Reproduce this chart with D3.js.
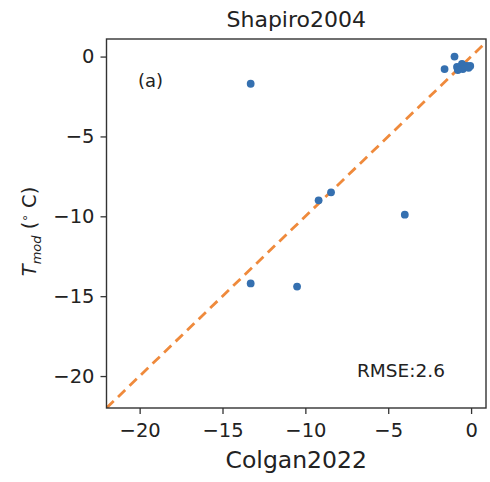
<!DOCTYPE html>
<html><head><meta charset="utf-8">
<script src="https://cdn.jsdelivr.net/npm/d3@7"></script>
<style>body{margin:0;background:#fff}svg{display:block}text{font-family:"DejaVu Sans",sans-serif;fill:#222}</style>
</head><body>
<script>
const xVals = [-13.3, -9.2, -8.45, -4.0, -13.3, -10.5, -1.0, -1.6, -0.85, -0.55, -0.25, -0.05, -0.5, -0.8, -0.15];
const yVals = [-1.7, -9.0, -8.5, -9.9, -14.2, -14.4, 0.0, -0.78, -0.65, -0.46, -0.59, -0.59, -0.78, -0.84, -0.7];
const xTicks = [-20, -15, -10, -5, 0];
const yTicks = [0, -5, -10, -15, -20];
const xDomain = [-22, 0.9];
const yDomain = [-22, 1.1];
const title = "Shapiro2004";
const xLabel = "Colgan2022";
const panelLabel = "(a)";
const rmseLabel = "RMSE:2.6";

const W = 490, H = 482;
const L = 106.5, R = 486, T = 39, B = 408;
const svg = d3.select("body").append("svg").attr("width", W).attr("height", H);
const x = d3.scaleLinear().domain(xDomain).range([L, R]);
const y = d3.scaleLinear().domain(yDomain).range([B, T]);
const fmt = d => d < 0 ? "\u2212" + Math.abs(d) : String(d);

svg.append("defs").append("clipPath").attr("id", "clip")
  .append("rect").attr("x", L).attr("y", T).attr("width", R - L).attr("height", B - T);

const g = svg.append("g").attr("clip-path", "url(#clip)");
const lo = Math.min(xDomain[0], yDomain[0]), hi = Math.max(xDomain[1], yDomain[1]);
g.append("line")
  .attr("x1", x(lo)).attr("y1", y(lo)).attr("x2", x(hi)).attr("y2", y(hi))
  .attr("stroke", "#ef8a3c").attr("stroke-width", 2.8).attr("stroke-dasharray", "10,6");

g.selectAll("circle").data(xVals.map((v, i) => [v, yVals[i]])).enter().append("circle")
  .attr("cx", d => x(d[0])).attr("cy", d => y(d[1])).attr("r", 3.9).attr("fill", "#3570b0");

const xa = svg.append("g").attr("transform", `translate(0,${B})`)
  .call(d3.axisBottom(x).tickValues(xTicks).tickFormat(fmt).tickSize(6).tickPadding(6));
const ya = svg.append("g").attr("transform", `translate(${L},0)`)
  .call(d3.axisLeft(y).tickValues(yTicks).tickFormat(fmt).tickSize(6).tickPadding(6));
[xa, ya].forEach(a => {
  a.select(".domain").remove();
  a.selectAll("line").attr("stroke", "#333").attr("stroke-width", 1.3);
  a.selectAll("text").attr("font-size", 19.5).attr("fill", "#222").style("font-family", "DejaVu Sans");
});
xa.selectAll("text").attr("dy", "0.85em");

svg.append("rect").attr("x", L).attr("y", T).attr("width", R - L).attr("height", B - T)
  .attr("fill", "none").attr("stroke", "#333").attr("stroke-width", 1.4);

svg.append("text").attr("x", (L + R) / 2).attr("y", 27).attr("text-anchor", "middle")
  .attr("font-size", 22).text(title);
svg.append("text").attr("x", (L + R) / 2).attr("y", 468).attr("text-anchor", "middle")
  .attr("font-size", 23.5).text(xLabel);

const yl = svg.append("text").attr("transform", `translate(36,${(T + B) / 2 + 8}) rotate(-90)`)
  .attr("text-anchor", "middle").attr("font-size", 19.5);
yl.append("tspan").attr("font-style", "italic").text("T");
yl.append("tspan").attr("font-style", "italic").attr("font-size", 13).attr("dy", 5).text("mod");
yl.append("tspan").attr("dy", -5).text(" (");
yl.append("tspan").attr("font-size", 12).attr("dy", -7).text("\u2218");
yl.append("tspan").attr("dy", 7).text(" C)");

svg.append("text").attr("x", 138).attr("y", 87).attr("font-size", 18).text(panelLabel);
svg.append("text").attr("x", 357).attr("y", 377).attr("font-size", 18.5).text(rmseLabel);
</script>
</body></html>
